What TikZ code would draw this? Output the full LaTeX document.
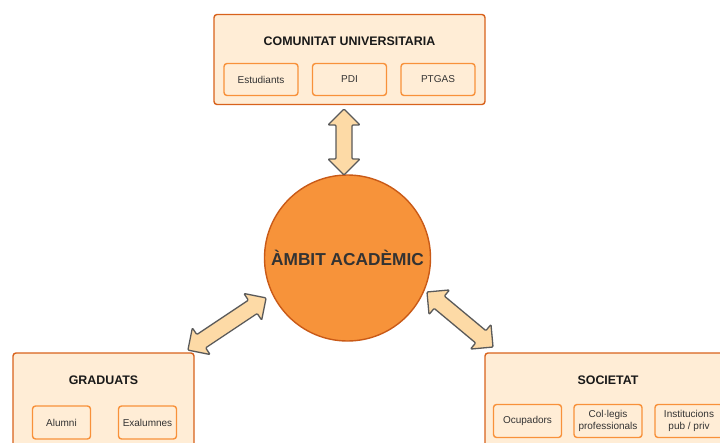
\documentclass[tikz,border=0pt]{standalone}
\usepackage{fontspec}
\setmainfont{Liberation Sans}
\definecolor{boxfill}{HTML}{FFEDD6}
\definecolor{boxedge}{HTML}{D8621C}
\definecolor{subedge}{HTML}{F8913A}
\definecolor{circfill}{HTML}{F7933A}
\definecolor{circedge}{HTML}{C95A17}
\definecolor{arrfill}{HTML}{FDDAA6}
\definecolor{arredge}{HTML}{5A5A5A}
\definecolor{txtgray}{HTML}{333333}
\tikzset{
  bigbox/.style={draw=boxedge, fill=boxfill, line width=1.4pt, rounded corners=3pt, inner sep=0pt},
  subbox/.style={draw=subedge, fill=boxfill, line width=1.4pt, rounded corners=3pt, inner sep=0pt,
    font=\fontsize{10}{12.5}\selectfont, text=txtgray, align=center},
  titletext/.style={font=\bfseries\fontsize{12.4}{14}\selectfont, text=black!90},
  arrstyle/.style={draw=arredge, fill=arrfill, line width=1.3pt, line join=round, rounded corners=1pt},
}
% #1,#2 centre, #3 angle, #4 half length
\newcommand\dblarrow[4]{%
  \draw[arrstyle, shift={(#1,#2)}, rotate=#3]
    (-#4,0) -- (-#4+16,16) -- (-#4+16,8) -- (#4-16,8) -- (#4-16,16) -- (#4,0)
    -- (#4-16,-16) -- (#4-16,-8) -- (-#4+16,-8) -- (-#4+16,-16) -- cycle;}
\begin{document}
\begin{tikzpicture}[x=1pt,y=-1pt]
\useasboundingbox (0,0) rectangle (720,442);
\clip (0,0) rectangle (720,442);
% top group
\node[bigbox, minimum width=271pt, minimum height=90pt] (top) at (349.5,59.5) {};
\node[titletext] (toptitle) at (349.5,41) {COMUNITAT UNIVERSITARIA};
\node[subbox, minimum width=74pt, minimum height=32pt] (est) at (261,79.5) {Estudiants};
\node[subbox, minimum width=74pt, minimum height=32pt] (pdi) at (349.5,79.5) {PDI};
\node[subbox, minimum width=74pt, minimum height=32pt] (ptgas) at (438,79.5) {PTGAS};
% left group
\node[bigbox, minimum width=181pt, minimum height=120pt] (grad) at (103.5,413) {};
\node[titletext] (gradtitle) at (103.5,380) {GRADUATS};
\node[subbox, minimum width=58pt, minimum height=33pt] (alu) at (61.5,422.5) {Alumni};
\node[subbox, minimum width=58pt, minimum height=33pt] (exa) at (147.5,422.5) {Exalumnes};
% right group
\node[bigbox, minimum width=246pt, minimum height=120pt] (soc) at (608,413) {};
\node[titletext] (soctitle) at (608,380) {SOCIETAT};
\node[subbox, minimum width=68pt, minimum height=33pt] (ocu) at (527.5,421) {Ocupadors};
\node[subbox, minimum width=68pt, minimum height=33pt] (col) at (608,421) {Col·legis\\professionals};
\node[subbox, minimum width=68pt, minimum height=33pt] (ins) at (689,421) {Institucions\\pub / priv};
% centre
\node[circle, draw=circedge, fill=circfill, line width=1.4pt, minimum size=166pt, inner sep=0pt,
  font=\bfseries\fontsize{17.3}{20}\selectfont, text=txtgray] (amb) at (347.5,258) {ÀMBIT ACADÈMIC};
% arrows
\dblarrow{344}{142}{90}{33}
\dblarrow{227}{324}{33.7}{47}
\dblarrow{460}{319.5}{-39.8}{43}
\end{tikzpicture}
\end{document}
